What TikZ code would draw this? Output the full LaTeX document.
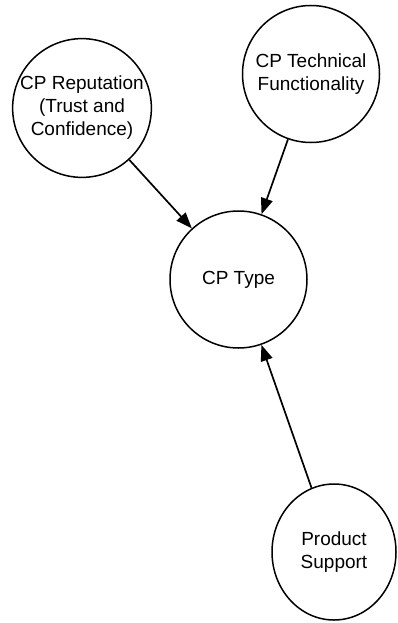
\documentclass[tikz,border=0pt]{standalone}
\usepackage{fontspec}
\setmainfont{Liberation Sans}
\usetikzlibrary{arrows.meta,shapes.geometric}
\begin{document}
\begin{tikzpicture}[x=1pt,y=-1pt,
  concept/.style={draw=black,line width=1.5pt,fill=white,circle,inner sep=0pt,
    minimum size=137pt,align=center,font=\fontsize{19}{23}\selectfont},
  link/.style={line width=1.7pt,-{Triangle[length=16pt,width=12pt]}}]
\useasboundingbox (0,0) rectangle (398,623);
\node[concept] (rep)  at (82,108)    {CP Reputation\\(Trust and\\Confidence)};
\node[concept] (tech) at (311,74)    {CP Technical\\Functionality};
\node[concept] (type) at (238.5,279.5) {CP Type};
\node[concept,ellipse,minimum width=124pt,minimum height=136pt] (supp) at (334,552) {Product\\Support};
\draw[link] (rep)  -- (type);
\draw[link] (tech) -- (type);
\draw[link] (supp) -- (type);
\end{tikzpicture}
\end{document}
